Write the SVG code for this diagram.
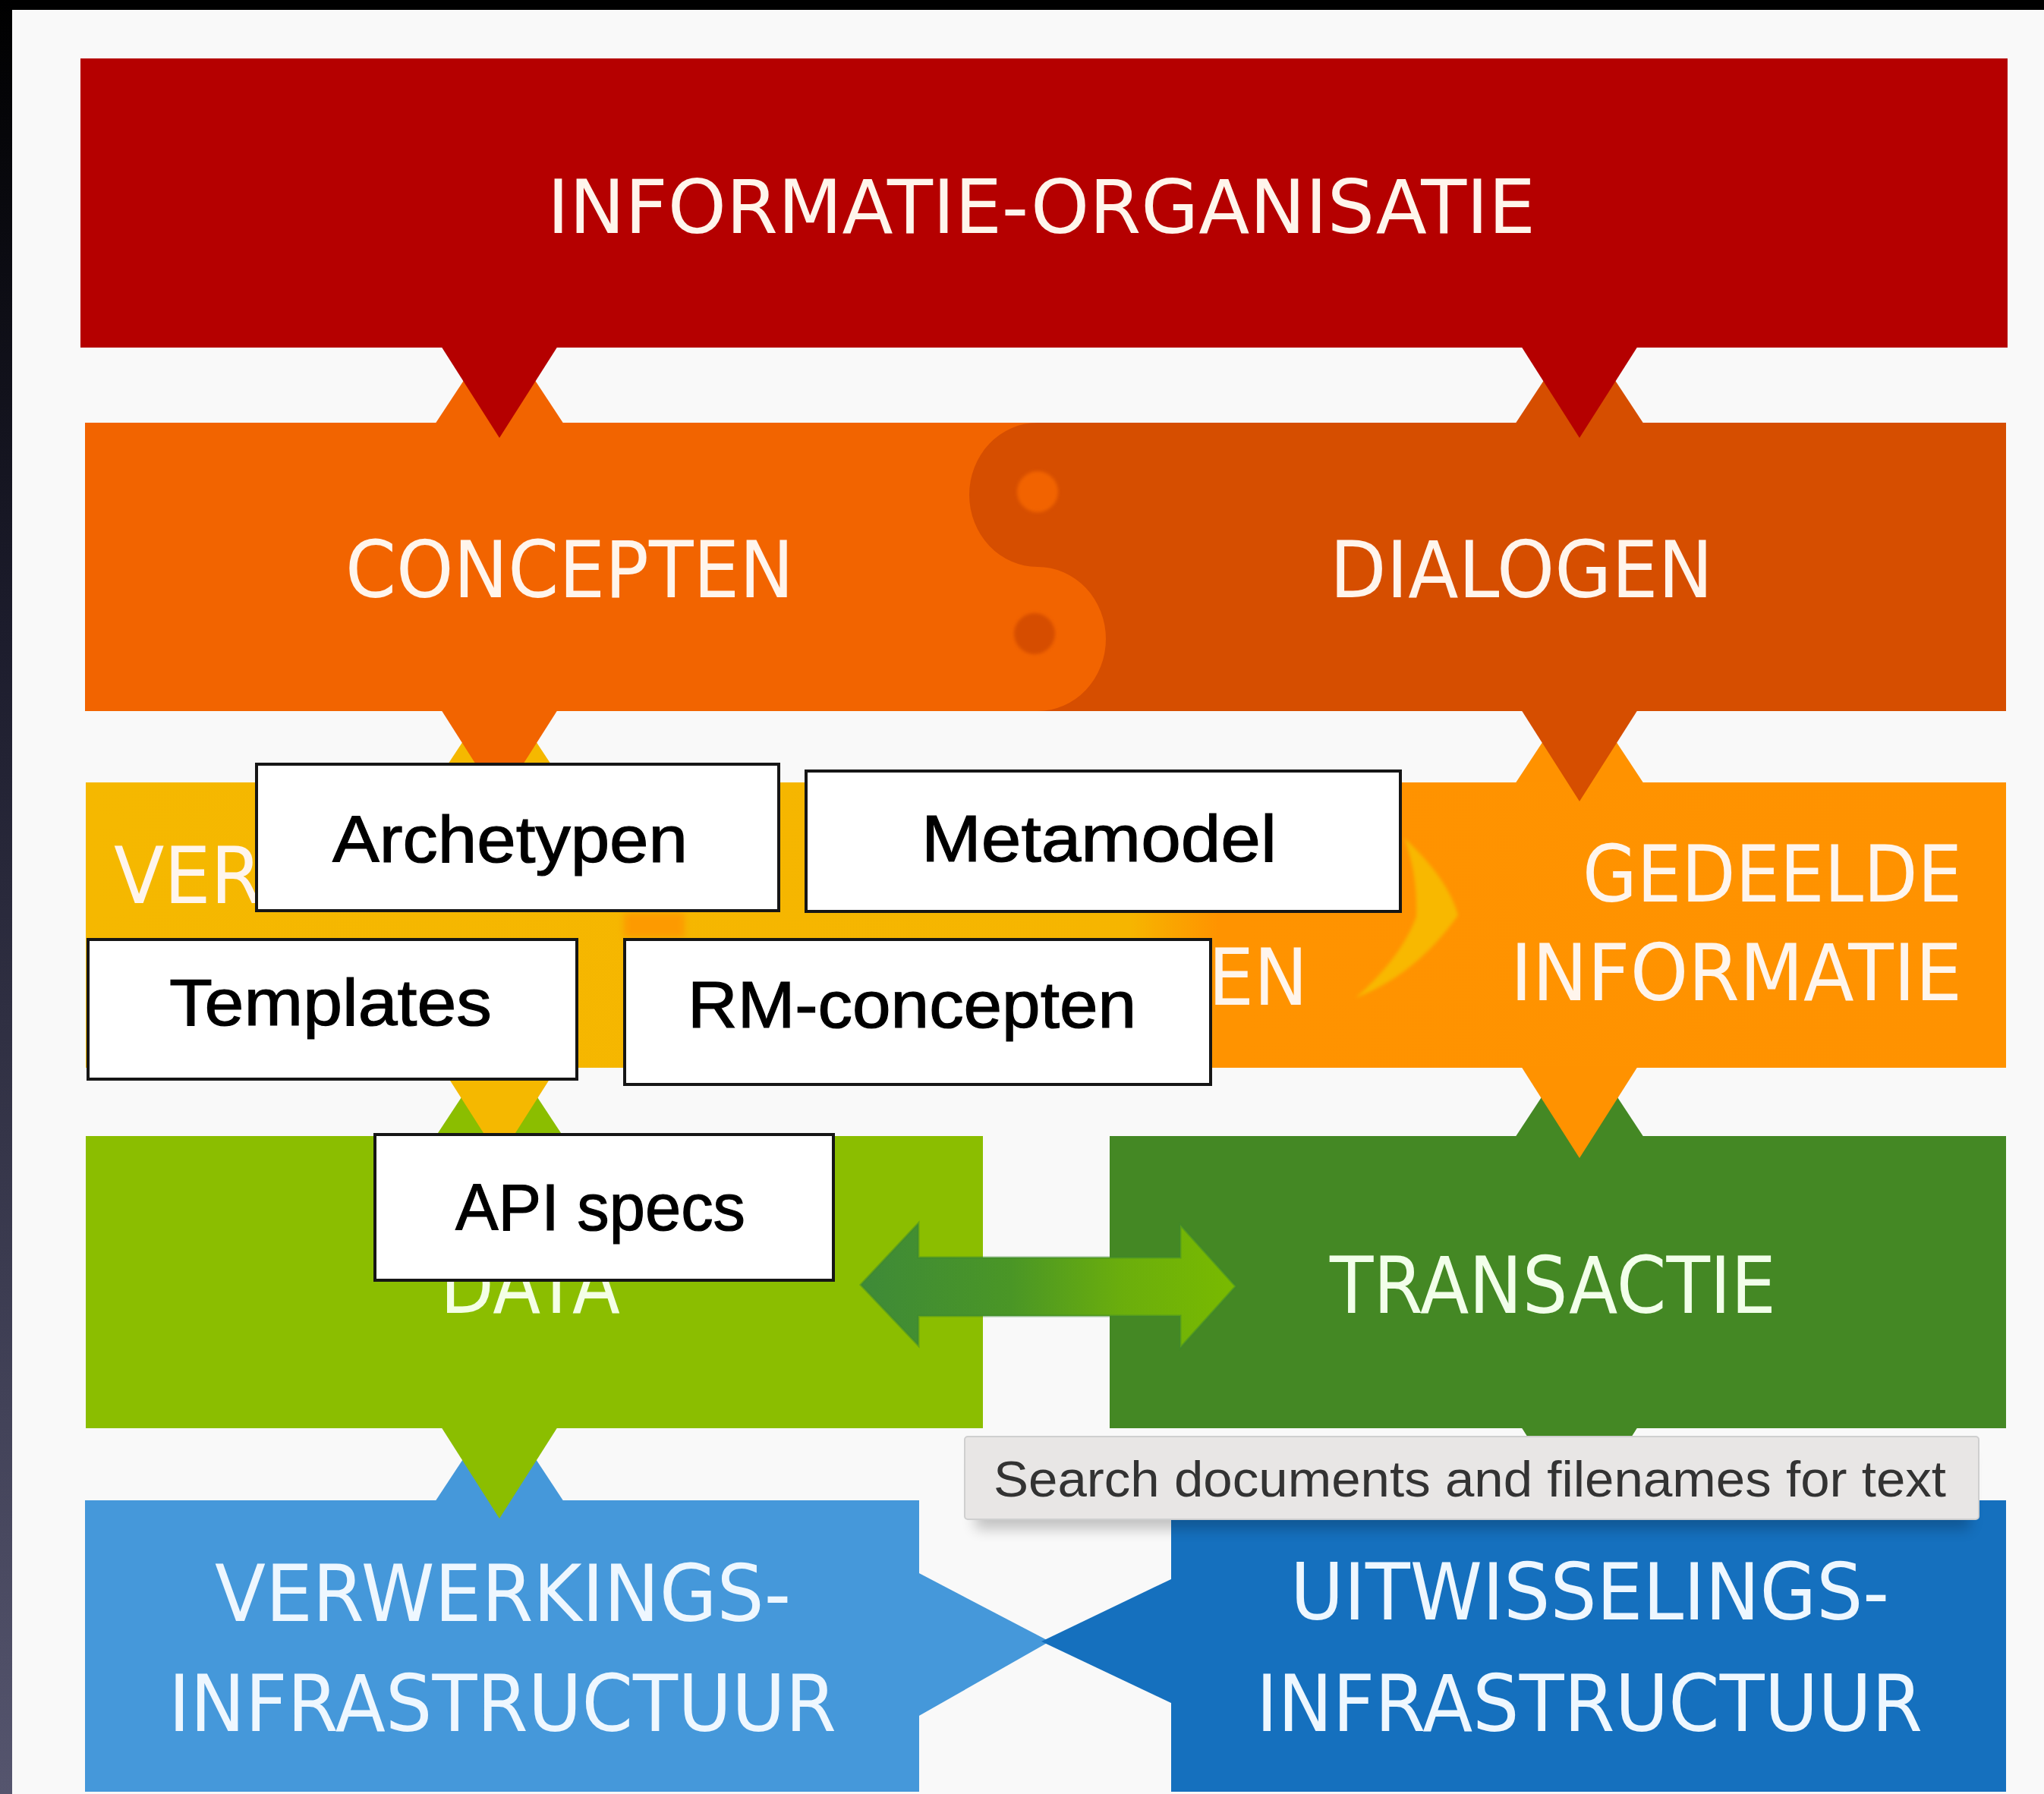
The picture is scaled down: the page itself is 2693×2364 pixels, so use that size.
<svg xmlns="http://www.w3.org/2000/svg" width="2693" height="2364" viewBox="0 0 2693 2364">
<defs>
<style>
.lbl{font-family:'DejaVu Sans','Liberation Sans',sans-serif;font-size:104px;fill:#FFF5EC}
.lblb{font-family:'DejaVu Sans','Liberation Sans',sans-serif;font-size:104px;fill:#EEF7FF}
.bt{font-family:'Liberation Sans',Arial,sans-serif;font-size:88px;fill:#000;stroke:#000;stroke-width:1.2}
.bx{fill:#FFFFFF;stroke:#161616;stroke-width:4}
.tt{font-family:'Liberation Sans',Arial,sans-serif;font-size:66px;fill:#333333}
</style>
<linearGradient id="edge" x1="0" y1="0" x2="0" y2="1">
<stop offset="0" stop-color="#000000"/>
<stop offset="0.35" stop-color="#1c1c2c"/>
<stop offset="1" stop-color="#55556e"/>
</linearGradient>
<linearGradient id="yel" x1="113" y1="0" x2="2643" y2="0" gradientUnits="userSpaceOnUse">
<stop offset="0" stop-color="#F5B800"/>
<stop offset="0.544" stop-color="#F6B500"/>
<stop offset="0.59" stop-color="#FF9300"/>
<stop offset="1" stop-color="#FF9200"/>
</linearGradient>
<linearGradient id="arr" x1="1134" y1="0" x2="1628" y2="0" gradientUnits="userSpaceOnUse">
<stop offset="0" stop-color="#3E8A38"/>
<stop offset="0.4" stop-color="#4A9626"/>
<stop offset="0.7" stop-color="#6BAE0C"/>
<stop offset="1" stop-color="#79BA00"/>
</linearGradient>
<filter id="soft" x="-20%" y="-20%" width="140%" height="140%"><feGaussianBlur stdDeviation="4"/></filter>
<filter id="soft2" x="-20%" y="-20%" width="140%" height="140%"><feGaussianBlur stdDeviation="2"/></filter>
<filter id="sh" x="-10%" y="-30%" width="120%" height="180%"><feGaussianBlur stdDeviation="9"/></filter>
</defs>

<!-- background / frame -->
<rect x="0" y="0" width="2693" height="2364" fill="#F9F9F9"/>
<rect x="0" y="0" width="2693" height="13" fill="#000"/>
<rect x="0" y="0" width="16" height="2364" fill="url(#edge)"/>

<!-- upward junction notches of lower bands (drawn under the bands) -->
<g id="connectors-under">
<polygon points="573,559 743,559 658,430" fill="#F26400"/>
<polygon points="1996,559 2166,559 2081,430" fill="#D64E00"/>
<polygon points="573,1033 743,1033 658,904" fill="#F5B800"/>
<polygon points="1996,1033 2166,1033 2081,904" fill="#FF9200"/>
<polygon points="573,1499 743,1499 658,1370" fill="#8BBE00"/>
<polygon points="1996,1499 2166,1499 2081,1370" fill="#448824"/>
<polygon points="573,1979 743,1979 658,1850" fill="#4598DA"/>
</g>

<g id="informatie-organisatie">
<rect x="106" y="77" width="2539" height="381" fill="#B50000"/>
<text class="lbl" x="721" y="307" textLength="1302" lengthAdjust="spacingAndGlyphs" style="font-size:98px">INFORMATIE-ORGANISATIE</text>
</g>

<g id="concepten">
<rect x="112" y="557" width="2531" height="380" fill="#F26400"/>
<text class="lbl" x="455" y="787" textLength="591" lengthAdjust="spacingAndGlyphs">CONCEPTEN</text>
</g>

<g id="dialogen">
<path d="M1367,557 H2643 V937 H1367 A90,95 0 0 0 1367,747 A90,95 0 0 1 1367,557 Z" fill="#D64E00"/>
<circle cx="1367" cy="648" r="27" fill="#F26400" filter="url(#soft2)"/>
<circle cx="1363" cy="835" r="27" fill="#D64E00" filter="url(#soft2)"/>
<text class="lbl" x="1752" y="787" textLength="505" lengthAdjust="spacingAndGlyphs">DIALOGEN</text>
</g>

<g id="verantwoording">
<rect x="113" y="1031" width="2530" height="376" fill="url(#yel)"/>
<rect x="822" y="1203" width="80" height="32" fill="#FF9400" opacity="0.8" filter="url(#soft)"/>
<text class="lbl" x="150" y="1190" textLength="195" lengthAdjust="spacingAndGlyphs">VER</text>
<text class="lbl" x="1592" y="1324" textLength="131" lengthAdjust="spacingAndGlyphs">EN</text>
</g>

<g id="gedeelde-informatie">
<path d="M1850,1104 Q1908,1158 1921,1206 Q1866,1284 1786,1315 Q1846,1262 1866,1208 Q1868,1152 1850,1104 Z" fill="#F8B800" filter="url(#soft2)"/>
<text class="lbl" x="2085" y="1188" textLength="500" lengthAdjust="spacingAndGlyphs">GEDEELDE</text>
<text class="lbl" x="1990" y="1318" textLength="595" lengthAdjust="spacingAndGlyphs">INFORMATIE</text>
</g>

<g id="data">
<rect x="113" y="1497" width="1182" height="385" fill="#8BBE00"/>
<text class="lbl" x="580" y="1730" textLength="237" lengthAdjust="spacingAndGlyphs" style="fill:#F4FFE6">DATA</text>
</g>

<g id="transactie">
<rect x="1462" y="1497" width="1181" height="385" fill="#448824"/>
<text class="lbl" x="1752" y="1730" textLength="588" lengthAdjust="spacingAndGlyphs" style="fill:#F2FFEA">TRANSACTIE</text>
</g>

<g id="verwerkings-infrastructuur">
<rect x="112" y="1977" width="1099" height="384" fill="#4598DA"/>
<text class="lblb" x="283" y="2136" textLength="759" lengthAdjust="spacingAndGlyphs">VERWERKINGS-</text>
<text class="lblb" x="222" y="2281" textLength="880" lengthAdjust="spacingAndGlyphs">INFRASTRUCTUUR</text>
</g>

<g id="uitwisselings-infrastructuur">
<rect x="1543" y="1977" width="1100" height="384" fill="#1570BE"/>
<text class="lblb" x="1700" y="2134" textLength="789" lengthAdjust="spacingAndGlyphs">UITWISSELINGS-</text>
<text class="lblb" x="1655" y="2281" textLength="878" lengthAdjust="spacingAndGlyphs">INFRASTRUCTUUR</text>
</g>

<!-- connectors: downward junction arrows, exchange arrow, X -->
<g id="connectors">
<polygon points="581,456 735,456 658,577" fill="#B50000"/>
<polygon points="2004,456 2158,456 2081,577" fill="#B50000"/>
<polygon points="581,935 735,935 658,1056" fill="#F26400"/>
<polygon points="2004,935 2158,935 2081,1056" fill="#D64E00"/>
<polygon points="581,1405 735,1405 658,1526" fill="#F5B800"/>
<polygon points="2004,1405 2158,1405 2081,1526" fill="#FF9200"/>
<polygon points="581,1880 735,1880 658,2001" fill="#8BBE00"/>
<polygon points="2004,1880 2158,1880 2081,2001" fill="#448824"/>
<polygon points="1134,1693 1210,1612 1210,1657 1555,1657 1555,1614 1628,1695 1555,1776 1555,1734 1210,1734 1210,1773" fill="url(#arr)" stroke="#3E8A2E" stroke-width="3" stroke-opacity="0.5"/>
<polygon points="1209,2072 1383,2163 1209,2262" fill="#4598DA"/>
<polygon points="1545,2080 1372,2163 1545,2245" fill="#1570BE"/>
</g>

<g id="archetypen">
<rect class="bx" x="338" y="1007" width="688" height="193"/>
<text class="bt" x="438" y="1136" textLength="468" lengthAdjust="spacingAndGlyphs">Archetypen</text>
</g>
<g id="metamodel">
<rect class="bx" x="1062" y="1016" width="783" height="185"/>
<text class="bt" x="1214" y="1135" textLength="468" lengthAdjust="spacingAndGlyphs">Metamodel</text>
</g>
<g id="templates">
<rect class="bx" x="116" y="1238" width="644" height="184"/>
<text class="bt" x="223" y="1351" textLength="425" lengthAdjust="spacingAndGlyphs">Templates</text>
</g>
<g id="rm-concepten">
<rect class="bx" x="823" y="1238" width="772" height="191"/>
<text class="bt" x="906" y="1354" textLength="591" lengthAdjust="spacingAndGlyphs">RM-concepten</text>
</g>
<g id="api-specs">
<rect class="bx" x="494" y="1495" width="604" height="192"/>
<text class="bt" x="600" y="1621" textLength="382" lengthAdjust="spacingAndGlyphs">API specs</text>
</g>

<g id="tooltip">
<rect x="1285" y="1915" width="1310" height="100" fill="#000" opacity="0.22" filter="url(#sh)"/>
<rect x="1271" y="1893" width="1336" height="109" rx="4" fill="#E8E6E5" stroke="#CFCFCF" stroke-width="2"/>
<text class="tt" x="1309" y="1972" textLength="1255" lengthAdjust="spacingAndGlyphs">Search documents and filenames for text</text>
</g>
</svg>
